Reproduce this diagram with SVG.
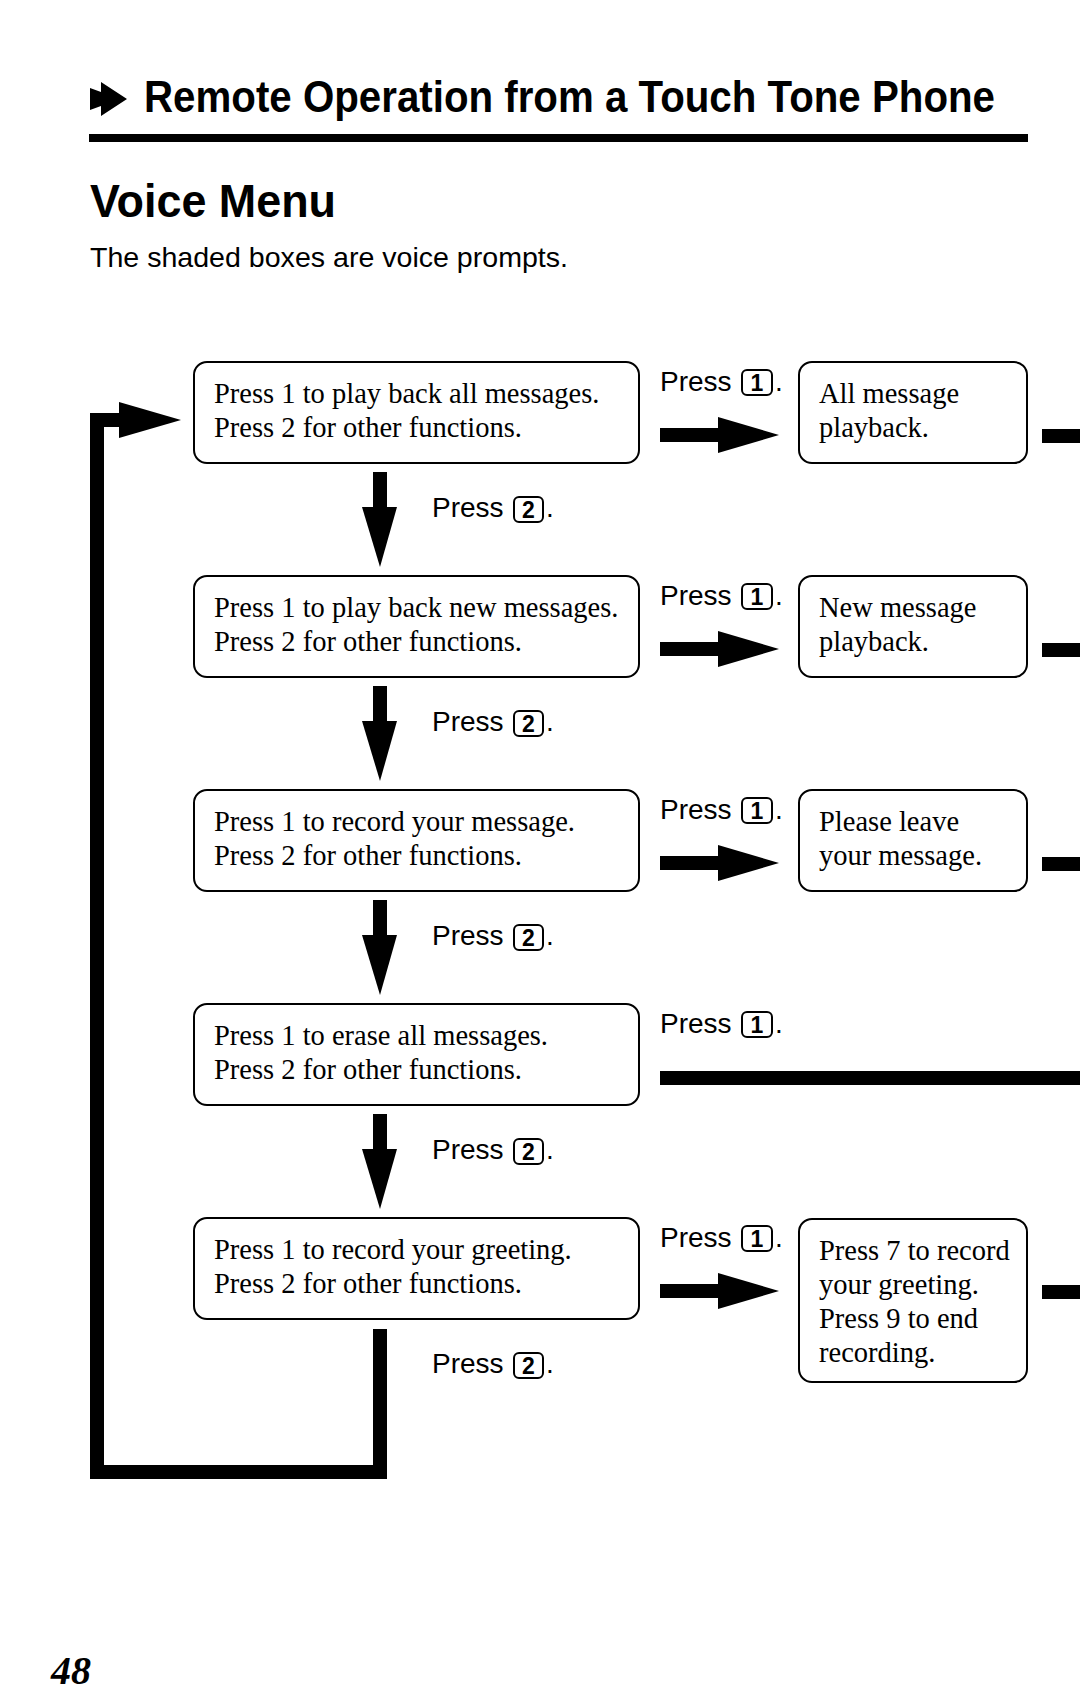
<svg xmlns="http://www.w3.org/2000/svg" width="1080" height="1700" viewBox="0 0 1080 1700">
<style>
.box{fill:#fff;stroke:#000;stroke-width:2}
.key{fill:#fff;stroke:#000;stroke-width:2}
.bt{font-family:"Liberation Serif","Times New Roman",serif;font-size:28.5px;fill:#000}
.lbl{font-family:"Liberation Sans",Arial,sans-serif;font-size:28px;fill:#000}
.kn{font-family:"Liberation Sans",Arial,sans-serif;font-size:23px;font-weight:bold;fill:#000;text-anchor:middle}
.ink{fill:#000}
</style>
<rect width="1080" height="1700" fill="#fff"/>
<g id="header">
<polygon class="ink" points="90,88 101,92 101,82 127,99 101,116 101,106 90,110"/>
<text x="144" y="112" font-family="Liberation Sans, Arial, sans-serif" font-weight="bold" font-size="44" textLength="851" lengthAdjust="spacingAndGlyphs">Remote Operation from a Touch Tone Phone</text>
<rect class="ink" x="89" y="134" width="939" height="8"/>
<text x="90" y="217" font-family="Liberation Sans, Arial, sans-serif" font-weight="bold" font-size="46" textLength="246" lengthAdjust="spacingAndGlyphs">Voice Menu</text>
<text x="90" y="267" font-family="Liberation Sans, Arial, sans-serif" font-size="28" textLength="478" lengthAdjust="spacingAndGlyphs">The shaded boxes are voice prompts.</text>
</g>
<g id="connectors">
<!-- loop back -->
<rect class="ink" x="90" y="413" width="14" height="1066"/>
<rect class="ink" x="90" y="1465" width="297" height="14"/>
<rect class="ink" x="373" y="1329" width="14" height="150"/>
<rect class="ink" x="90" y="413" width="34" height="14"/>
<polygon class="ink" points="119,402 181,420 119,438"/>
<!-- down arrows -->
<rect class="ink" x="373" y="472" width="14" height="38"/>
<polygon class="ink" points="362,507 397,507 380,567"/>
<rect class="ink" x="373" y="686" width="14" height="38"/>
<polygon class="ink" points="362,721 397,721 380,781"/>
<rect class="ink" x="373" y="900" width="14" height="38"/>
<polygon class="ink" points="362,935 397,935 380,995"/>
<rect class="ink" x="373" y="1114" width="14" height="38"/>
<polygon class="ink" points="362,1149 397,1149 380,1209"/>
<!-- right arrows -->
<rect class="ink" x="660" y="428" width="62" height="14"/>
<polygon class="ink" points="718,417 779,435 718,453"/>
<rect class="ink" x="660" y="642" width="62" height="14"/>
<polygon class="ink" points="718,631 779,649 718,667"/>
<rect class="ink" x="660" y="856" width="62" height="14"/>
<polygon class="ink" points="718,845 779,863 718,881"/>
<rect class="ink" x="660" y="1071" width="420" height="14"/>
<rect class="ink" x="660" y="1284" width="62" height="14"/>
<polygon class="ink" points="718,1273 779,1291 718,1309"/>
<!-- right stubs -->
<rect class="ink" x="1042" y="429" width="38" height="14"/>
<rect class="ink" x="1042" y="643" width="38" height="14"/>
<rect class="ink" x="1042" y="857" width="38" height="14"/>
<rect class="ink" x="1042" y="1285" width="38" height="14"/>
</g>
<g id="labels">
<g id="lbl-r1"><text class="lbl" x="660" y="391">Press</text><rect class="key" x="742" y="370" width="30" height="25" rx="5"/><text class="kn" x="757" y="391">1</text><text class="lbl" x="775" y="391">.</text></g>
<g id="lbl-r2"><text class="lbl" x="660" y="605">Press</text><rect class="key" x="742" y="584" width="30" height="25" rx="5"/><text class="kn" x="757" y="605">1</text><text class="lbl" x="775" y="605">.</text></g>
<g id="lbl-r3"><text class="lbl" x="660" y="819">Press</text><rect class="key" x="742" y="798" width="30" height="25" rx="5"/><text class="kn" x="757" y="819">1</text><text class="lbl" x="775" y="819">.</text></g>
<g id="lbl-r4"><text class="lbl" x="660" y="1033">Press</text><rect class="key" x="742" y="1012" width="30" height="25" rx="5"/><text class="kn" x="757" y="1033">1</text><text class="lbl" x="775" y="1033">.</text></g>
<g id="lbl-r5"><text class="lbl" x="660" y="1247">Press</text><rect class="key" x="742" y="1226" width="30" height="25" rx="5"/><text class="kn" x="757" y="1247">1</text><text class="lbl" x="775" y="1247">.</text></g>
<g id="lbl-d1"><text class="lbl" x="432" y="517">Press</text><rect class="key" x="514" y="497" width="29" height="25" rx="5"/><text class="kn" x="528.5" y="518">2</text><text class="lbl" x="546" y="517">.</text></g>
<g id="lbl-d2"><text class="lbl" x="432" y="731">Press</text><rect class="key" x="514" y="711" width="29" height="25" rx="5"/><text class="kn" x="528.5" y="732">2</text><text class="lbl" x="546" y="731">.</text></g>
<g id="lbl-d3"><text class="lbl" x="432" y="945">Press</text><rect class="key" x="514" y="925" width="29" height="25" rx="5"/><text class="kn" x="528.5" y="946">2</text><text class="lbl" x="546" y="945">.</text></g>
<g id="lbl-d4"><text class="lbl" x="432" y="1159">Press</text><rect class="key" x="514" y="1139" width="29" height="25" rx="5"/><text class="kn" x="528.5" y="1160">2</text><text class="lbl" x="546" y="1159">.</text></g>
<g id="lbl-d5"><text class="lbl" x="432" y="1373">Press</text><rect class="key" x="514" y="1353" width="29" height="25" rx="5"/><text class="kn" x="528.5" y="1374">2</text><text class="lbl" x="546" y="1373">.</text></g>
</g>
<g id="menu1"><rect class="box" x="194" y="362" width="445" height="101" rx="13"/><text class="bt" x="214" y="403">Press 1 to play back all messages.</text><text class="bt" x="214" y="437">Press 2 for other functions.</text></g>
<g id="menu2"><rect class="box" x="194" y="576" width="445" height="101" rx="13"/><text class="bt" x="214" y="617">Press 1 to play back new messages.</text><text class="bt" x="214" y="651">Press 2 for other functions.</text></g>
<g id="menu3"><rect class="box" x="194" y="790" width="445" height="101" rx="13"/><text class="bt" x="214" y="831">Press 1 to record your message.</text><text class="bt" x="214" y="865">Press 2 for other functions.</text></g>
<g id="menu4"><rect class="box" x="194" y="1004" width="445" height="101" rx="13"/><text class="bt" x="214" y="1045">Press 1 to erase all messages.</text><text class="bt" x="214" y="1079">Press 2 for other functions.</text></g>
<g id="menu5"><rect class="box" x="194" y="1218" width="445" height="101" rx="13"/><text class="bt" x="214" y="1259">Press 1 to record your greeting.</text><text class="bt" x="214" y="1293">Press 2 for other functions.</text></g>
<g id="prompt1"><rect class="box" x="799" y="362" width="228" height="101" rx="13"/><text class="bt" x="819" y="403">All message</text><text class="bt" x="819" y="437">playback.</text></g>
<g id="prompt2"><rect class="box" x="799" y="576" width="228" height="101" rx="13"/><text class="bt" x="819" y="617">New message</text><text class="bt" x="819" y="651">playback.</text></g>
<g id="prompt3"><rect class="box" x="799" y="790" width="228" height="101" rx="13"/><text class="bt" x="819" y="831">Please leave</text><text class="bt" x="819" y="865">your message.</text></g>
<g id="prompt5"><rect class="box" x="799" y="1219" width="228" height="163" rx="13"/><text class="bt" x="819" y="1260">Press 7 to record</text><text class="bt" x="819" y="1294">your greeting.</text><text class="bt" x="819" y="1328">Press 9 to end</text><text class="bt" x="819" y="1362">recording.</text></g>
<text x="51" y="1684" font-family="Liberation Serif, Times New Roman, serif" font-weight="bold" font-style="italic" font-size="40">48</text>
</svg>
